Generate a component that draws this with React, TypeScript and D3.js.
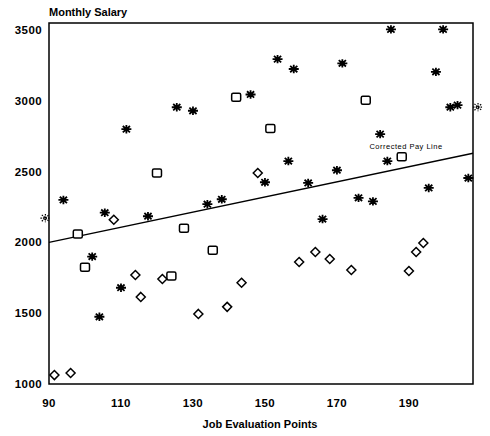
import React from "react";
import * as d3 from "d3";

const xTicks = [90, 110, 130, 150, 170, 190];
const yTicks = [1000, 1500, 2000, 2500, 3000, 3500];

// asterisk points: [job evaluation points, monthly salary]
const starX = [94, 105.5, 102, 110, 104, 111.5, 117.5, 134, 138, 125.5, 130, 146, 153.5, 158, 185, 199.5, 171.5, 197.5, 201.5, 203.5, 182, 156.5, 150, 162, 170, 184, 176, 180, 195.5, 206.5, 166];
const starY = [2300, 2210, 1900, 1680, 1475, 2800, 2185, 2270, 2305, 2955, 2930, 3045, 3295, 3225, 3505, 3505, 3265, 3205, 2955, 2970, 2765, 2575, 2425, 2420, 2510, 2575, 2315, 2290, 2385, 2455, 2165];
// partially drawn asterisks at the frame edges
const edgeStarX = [89, 209.2];
const edgeStarY = [2172, 2956];

const squareX = [98, 100, 120, 127.5, 124, 135.5, 142, 151.5, 178, 188];
const squareY = [2060, 1825, 2490, 2100, 1763, 1945, 3025, 2805, 3005, 2605];

const diamondX = [108, 114, 115.5, 121.5, 131.5, 139.5, 143.5, 91.5, 96, 159.5, 164, 168, 174, 190, 192, 194, 148];
const diamondY = [2160, 1770, 1615, 1742, 1495, 1545, 1715, 1063, 1078, 1862, 1932, 1883, 1805, 1798, 1932, 1996, 2490];

const lineX = [90, 207.8];
const lineY = [2000, 2630];

const W = 490;
const H = 436;
const left = 49, right = 473, top = 23, bottom = 384;

export default function App() {
  const x = d3.scaleLinear().domain([90, 207.8]).range([left, right]);
  const y = d3.scaleLinear().domain([1000, 3550]).range([bottom, top]);
  const font = "'Liberation Sans', Arial, sans-serif";

  const star = (cx: number, cy: number, k: number, sw = 1.8, dash?: string) => {
    const r = 5, ry = 4.2, d = 3.6, dy = 3.2;
    const p = `M${cx - r},${cy}L${cx + r},${cy}M${cx},${cy - ry}L${cx},${cy + ry}M${cx - d},${cy - dy}L${cx + d},${cy + dy}M${cx - d},${cy + dy}L${cx + d},${cy - dy}`;
    return <path key={k} d={p} stroke="#000" strokeWidth={sw} fill="none" strokeDasharray={dash} />;
  };

  const linePath = d3.line<number>()
    .x((_, i) => x(lineX[i]))
    .y((_, i) => y(lineY[i]))(lineX) || "";

  return (
    <svg width={W} height={H} style={{ position: "absolute", left: 0, top: 0, background: "#fff" }}>
      <rect x={0} y={0} width={W} height={H} fill="#fff" />
      <text x={left} y={16} fontFamily={font} fontWeight="bold" fontSize={11} fill="#000">Monthly Salary</text>
      {/* frame */}
      <rect x={left} y={top} width={right - left} height={bottom - top} fill="none" stroke="#000" strokeWidth={1.5} />
      {yTicks.map((t) => (
        <text key={t} x={42} y={y(t) + 4} textAnchor="end" fontFamily={font} fontWeight="bold" fontSize={11.5} letterSpacing={0.4} fill="#000">{t}</text>
      ))}
      {xTicks.map((t) => (
        <text key={t} x={x(t)} y={407} textAnchor="middle" fontFamily={font} fontWeight="bold" fontSize={11.5} letterSpacing={0.4} fill="#000">{t}</text>
      ))}
      <text x={260} y={428} textAnchor="middle" fontFamily={font} fontWeight="bold" fontSize={11} fill="#000">Job Evaluation Points</text>

      <path d={linePath} stroke="#000" strokeWidth={1.3} fill="none" />
      <text x={406} y={149} textAnchor="middle" fontFamily={font} fontSize={7.5} letterSpacing={0.5} fill="#000" style={{ WebkitFontSmoothing: "none" } as any}>Corrected Pay Line</text>

      {starX.map((v, i) => star(x(v), y(starY[i]), i))}
      {edgeStarX.map((v, i) => star(x(v), y(edgeStarY[i]), 100 + i, 1.2, "1.5 1"))}
      {squareX.map((v, i) => (
        <rect key={"s" + i} x={x(v) - 4.5} y={y(squareY[i]) - 4} width={9} height={8} rx={1.5} fill="#fff" stroke="#000" strokeWidth={1.5} />
      ))}
      {diamondX.map((v, i) => {
        const cx = x(v), cy = y(diamondY[i]), r = 4.5;
        return (
          <path key={"d" + i} d={`M${cx},${cy - r}L${cx + r},${cy}L${cx},${cy + r}L${cx - r},${cy}Z`} fill="#fff" stroke="#000" strokeWidth={1.5} />
        );
      })}
    </svg>
  );
}
